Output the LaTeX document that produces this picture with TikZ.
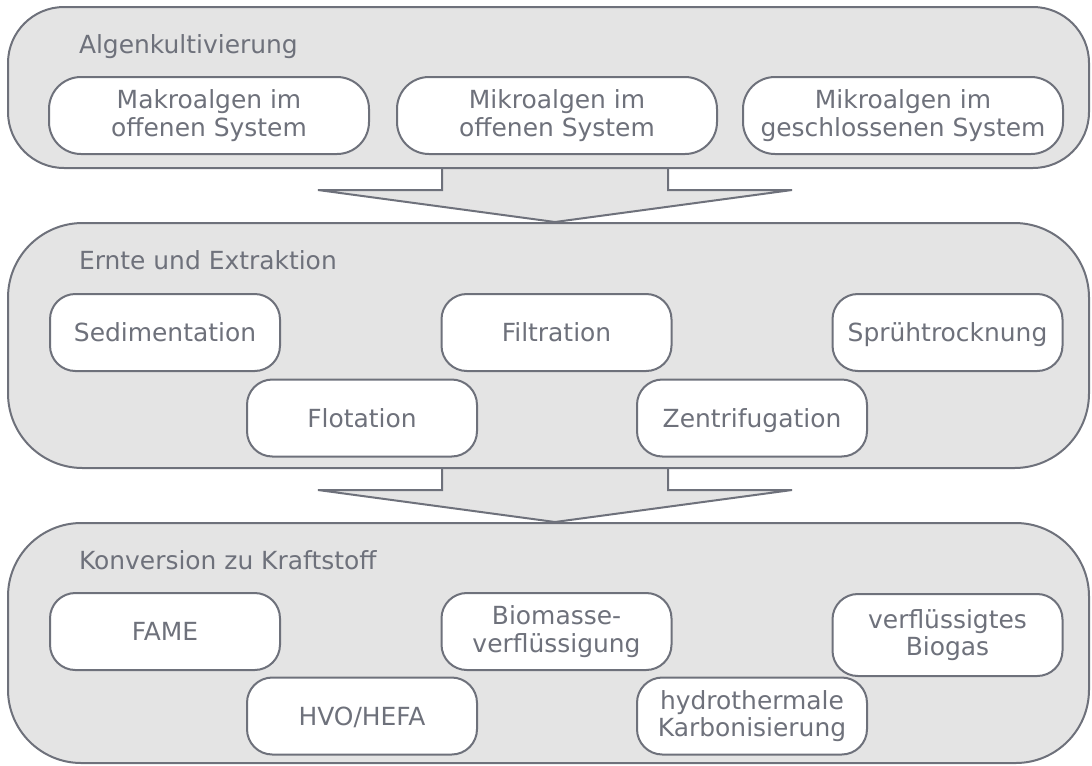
\documentclass[tikz,border=0pt]{standalone}
\usepackage{fontspec}
\setmainfont{DejaVu Sans}
\usetikzlibrary{calc,backgrounds}
\definecolor{linegray}{RGB}{110,113,123}
\definecolor{boxgray}{RGB}{228,228,228}
\tikzset{every picture/.style={line width=1.5pt}}
\tikzset{
  stage/.style={draw=linegray, fill=boxgray, inner sep=0pt, minimum width=810.75pt},
  stagetitle/.style={anchor=base west, inner sep=0pt, text=linegray, font=\fontsize{18.7}{20.6}\selectfont},
  stepbox/.style={draw=linegray, fill=white, rounded corners=19pt, inner sep=0pt, align=center, minimum width=172.5pt, minimum height=57.75pt, text=linegray, font=\fontsize{18.7}{20.6}\selectfont},
  widebox/.style={stepbox, rounded corners=24pt, minimum width=240pt, font=\fontsize{18.7}{21.5}\selectfont},
  oneline/.style={text height=13.6pt, text depth=0pt},
  blockarrow/.style={draw=linegray, fill=boxgray, line width=1.5pt, line join=miter}
}

\begin{document}
\begin{tikzpicture}[x=0.75pt,y=0.75pt,yscale=-1,xscale=1]
\useasboundingbox (0,0) rectangle (1092,765);

%Shape: Stage boxes
\node [stage, rounded corners=42pt, minimum height=120.75pt] (anbau) at (548.5,87.5) {};
\node [stage, rounded corners=56pt, minimum height=183.75pt] (ernte) at (548.5,345.5) {};
\node [stage, rounded corners=55pt, minimum height=180pt] (konversion) at (548.5,643) {};

%Shape: Block Arrow
\begin{scope}[on background layer]
\filldraw [blockarrow] ($(anbau.south)+(-106.5,0)$) -- ($(anbau.south)+(-106.5,21)$) -- ($(anbau.south)+(-230.5,21)$) -- ($(ernte.north)+(6.5,0)$) -- ($(anbau.south)+(243.5,21)$) -- ($(anbau.south)+(119.5,21)$) -- ($(anbau.south)+(119.5,0)$) ;
%Shape: Block Arrow
\filldraw [blockarrow] ($(ernte.south)+(-106.5,0)$) -- ($(ernte.south)+(-106.5,21)$) -- ($(ernte.south)+(-230.5,21)$) -- ($(konversion.north)+(6.5,0)$) -- ($(ernte.south)+(243.5,21)$) -- ($(ernte.south)+(119.5,21)$) -- ($(ernte.south)+(119.5,0)$) ;
\end{scope}

% Text Node
\node [stagetitle] (anbautitel) at (78,53) {Algenkultivierung};
% Text Node
\node [stagetitle] (erntetitel) at (78,269) {Ernte und Extraktion};
% Text Node
\node [stagetitle] (konversiontitel) at (78,569) {Konversion zu Kraftstoff};

%Shape: Algenkultivierung
\node [widebox] (makro) at (209,115.5) {Makroalgen im\\offenen System};
\node [widebox] (mikrooffen) at (557,115.5) {Mikroalgen im\\offenen System};
\node [widebox] (mikrogeschl) at (903,115.5) {Mikroalgen im\\geschlossenen System};

%Shape: Ernte und Extraktion
\node [stepbox, oneline] (sedimentation) at (165,332.5) {Sedimentation};
\node [stepbox, oneline] (filtration) at (556.5,332.5) {Filtration};
\node [stepbox, oneline] (spruehtrocknung) at (947.5,332.5) {Sprühtrocknung};
\node [stepbox, oneline] (flotation) at (362,418) {Flotation};
\node [stepbox, oneline] (zentrifugation) at (752,418) {Zentrifugation};

%Shape: Konversion zu Kraftstoff
\node [stepbox, oneline] (fame) at (165,631.5) {FAME};
\node [stepbox] (biomasse) at (556.5,631.5) {Biomasse-\\verflüssigung};
\node [stepbox, minimum height=61.5pt] (biogas) at (947.5,635) {verflüssigtes\\Biogas};
\node [stepbox, oneline] (hvo) at (362,716) {HVO/HEFA};
\node [stepbox] (htc) at (752,716) {hydrothermale\\Karbonisierung};

\end{tikzpicture}
\end{document}
